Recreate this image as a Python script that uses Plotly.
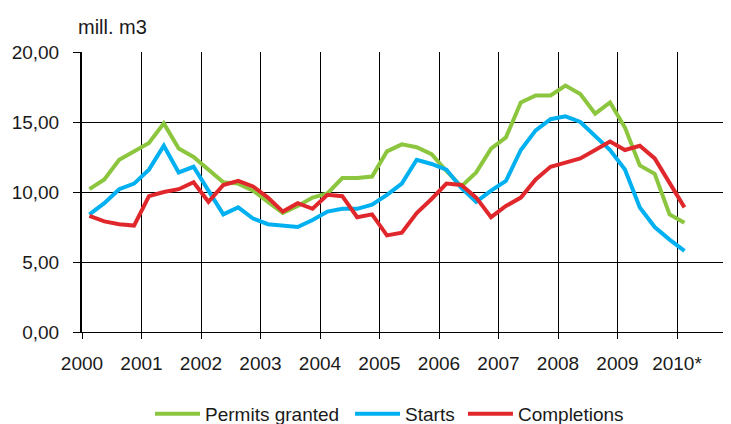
import plotly.graph_objects as go

quarters = [f"{y}Q{q}" for y in range(2000, 2011) for q in range(1, 5)][:41]

permits = [10.2, 10.9, 12.3, 12.9, 13.5, 14.9, 13.1, 12.5, 11.6, 10.7,
           10.6, 10.1, 9.3, 8.5, 9.0, 9.6, 9.9, 11.0, 11.0, 11.1,
           12.9, 13.4, 13.2, 12.7, 11.5, 10.4, 11.4, 13.1, 13.9, 16.4,
           16.9, 16.9, 17.6, 17.0, 15.6, 16.4, 14.6, 11.9, 11.3, 8.4, 7.8]
starts = [8.4, 9.2, 10.2, 10.6, 11.6, 13.3, 11.4, 11.8, 10.1, 8.4,
          8.9, 8.1, 7.7, 7.6, 7.5, 8.0, 8.6, 8.8, 8.8, 9.1,
          9.8, 10.6, 12.3, 12.0, 11.6, 10.3, 9.3, 10.1, 10.8, 13.0,
          14.4, 15.2, 15.4, 15.0, 14.0, 13.0, 11.6, 8.9, 7.5, 6.6, 5.8]
completions = [8.3, 7.9, 7.7, 7.6, 9.7, 10.0, 10.2, 10.7, 9.3, 10.5,
               10.8, 10.4, 9.6, 8.6, 9.2, 8.8, 9.8, 9.7, 8.2, 8.4,
               6.9, 7.1, 8.5, 9.5, 10.6, 10.5, 9.6, 8.2, 9.0, 9.6,
               10.9, 11.8, 12.1, 12.4, 13.0, 13.6, 13.0, 13.3, 12.4, 10.7, 8.9]

year_ticks = list(range(2000, 2011))
year_labels = [str(y) for y in range(2000, 2010)] + ["2010*"]

series_names = ["Permits granted", "Starts", "Completions"]
series_colors = ["#8CC63F", "#00B0F0", "#E0282C"]
legend_ids = ["legend", "legend2", "legend3"]

def qpos(label):
    y, q = label.split("Q")
    return int(y) + (int(q) - 0.5) / 4

x = [qpos(q) for q in quarters]

fig = go.Figure()
for name, vals, col, lg in zip(series_names, [permits, starts, completions], series_colors, legend_ids):
    fig.add_trace(go.Scatter(x=x, y=vals, name=name, mode="lines",
                             line=dict(color=col, width=4), legend=lg))

FAM = "Liberation Sans, Arial, sans-serif"
font = dict(family=FAM, size=19, color="#1a1a1a")

def leg(xpos):
    return dict(orientation="h", x=xpos, xanchor="left", y=-0.225, yanchor="top",
                font=dict(size=19, family=FAM, color="#1a1a1a"),
                itemwidth=45, bgcolor="rgba(0,0,0,0)")

fig.update_layout(
    width=723, height=416,
    margin=dict(l=74, r=0, t=44, b=92, autoexpand=False),
    paper_bgcolor="white", plot_bgcolor="white",
    font=font,
    separators=",.",
    showlegend=True,
    legend=leg(0.1048),
    legend2=leg(0.413),
    legend3=leg(0.587),
    xaxis=dict(range=[2000, 2000 + 649 / 59.5], tickvals=year_ticks, ticktext=year_labels,
               showgrid=True, gridcolor="black", gridwidth=1,
               showline=True, linecolor="black", linewidth=1,
               ticks="outside", ticklen=6, tickcolor="black", ticklabelstandoff=8,
               zeroline=False, tickfont=font, automargin=False),
    yaxis=dict(range=[0, 20], tickvals=[0, 5, 10, 15, 20], tickformat=".2f",
               showgrid=True, gridcolor="black", gridwidth=1,
               showline=True, linecolor="black", linewidth=2,
               ticks="outside", ticklen=7, tickcolor="black", ticklabelstandoff=10,
               zeroline=False, tickfont=font, automargin=False),
    annotations=[dict(text="mill. m3", xref="paper", yref="paper", x=0, y=1,
                      xanchor="left", yanchor="bottom", yshift=12, xshift=-6,
                      showarrow=False, font=dict(size=20, family=FAM, color="#1a1a1a"))],
)

fig.write_html("out.html")
